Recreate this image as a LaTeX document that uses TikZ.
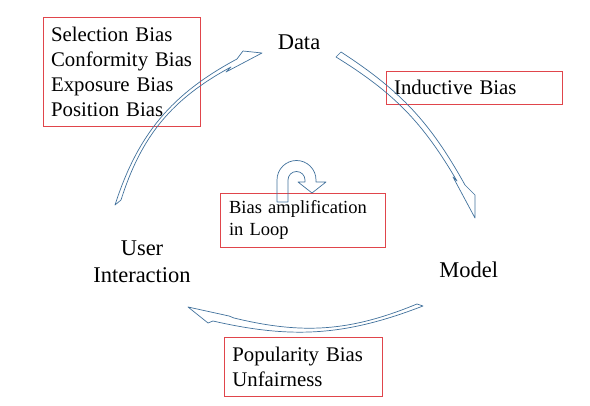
\documentclass[tikz,border=0pt]{standalone}
\usepackage{fontspec}
\setmainfont{Liberation Serif}
\usepackage{tikz}
\usepackage{xcolor}
\usetikzlibrary{positioning,calc}
\definecolor{BiasBoxColour}{HTML}{E0454B}
\definecolor{BlockArrowColour}{HTML}{41719C}
\tikzstyle{StageLabel}=[draw=none,inner sep=0pt,align=center,font=\fontsize{22.5}{27}\selectfont]
\tikzstyle{BiasBox}=[rectangle,line width=0.8pt,anchor=north west,align=left,inner xsep=8pt,inner ysep=0pt,font=\fontsize{20.8}{25}\selectfont,draw=BiasBoxColour,text=black]
\tikzstyle{BlockArrow}=[draw=BlockArrowColour,line width=0.7pt,line join=round]

\begin{document}
\begin{tikzpicture}[x=1pt,y=1pt,semithick]
  \useasboundingbox (0,0) rectangle (590,-406);

  % stages of the loop
  \node[StageLabel,anchor=base](Data) at (299,-50){Data};
  \node[StageLabel,anchor=base west](Model) at (439,-278){Model};
  \node[StageLabel](User-Interaction) at (142,-262){User\\Interaction};

  % biases
  \node[BiasBox,text width=141.3pt,minimum height=109.3pt](SelectionBiasBox) at (42.7,-16.7){Selection Bias\\Conformity Bias\\Exposure Bias\\Position Bias};
  \node[BiasBox,text width=160pt,minimum height=33.3pt](InductiveBiasBox) at (385.7,-70.7){Inductive Bias};
  \node[BiasBox,draw=none,font=\fontsize{18.5}{22}\selectfont,text width=148.3pt,minimum height=53.4pt](LoopBox) at (220.7,-193.3){Bias amplification\\in Loop};
  \draw[BiasBoxColour,line width=0.8pt](LoopBox.south west) rectangle (LoopBox.north east);
  \node[BiasBox,text width=141.7pt,minimum height=59.3pt](PopularityBiasBox) at (224,-336.7){Popularity Bias\\Unfairness};

  % User Interaction -> Data
  \coordinate (UI-Tail-Outer) at (115,-205);
  \coordinate (UI-Tail-Inner) at (121,-200);
  \coordinate (UI-Base-Outer) at (237,-59);
  \coordinate (UI-Barb-Outer) at (243,-51);
  \coordinate (UI-Tip) at (262,-53);
  \coordinate (UI-Barb-Inner) at (226,-72);
  \coordinate (UI-Base-Inner) at (231,-67);
  \draw[BlockArrow](UI-Tail-Outer) to[bend left=22] (UI-Base-Outer) -- (UI-Barb-Outer) -- (UI-Tip) -- (UI-Barb-Inner) -- (UI-Base-Inner) to[bend right=22] (UI-Tail-Inner) -- cycle;

  % Data -> Model
  \coordinate (Data-Tail-Outer) at (341,-52);
  \coordinate (Data-Tail-Inner) at (336,-57);
  \coordinate (Data-Base-Outer) at (465,-185);
  \coordinate (Data-Barb-Outer) at (475,-195);
  \coordinate (Data-Tip) at (475,-218);
  \coordinate (Data-Barb-Inner) at (453,-177);
  \coordinate (Data-Base-Inner) at (457,-181);
  \draw[BlockArrow](Data-Tail-Outer) to[bend left=14] (Data-Base-Outer) -- (Data-Barb-Outer) -- (Data-Tip) -- (Data-Barb-Inner) -- (Data-Base-Inner) to[bend right=14] (Data-Tail-Inner) -- cycle;

  % Model -> User Interaction
  \coordinate (Model-Tail-Outer) at (423,-306);
  \coordinate (Model-Tail-Inner) at (417,-304);
  \coordinate (Model-Base-Outer) at (213,-321);
  \coordinate (Model-Barb-Outer) at (208,-323);
  \coordinate (Model-Tip) at (188,-307);
  \coordinate (Model-Barb-Inner) at (229,-316);
  \coordinate (Model-Base-Inner) at (234,-318);
  \draw[BlockArrow](Model-Tail-Outer) to[bend left=17] (Model-Base-Outer) -- (Model-Barb-Outer) -- (Model-Tip) -- (Model-Barb-Inner) -- (Model-Base-Inner) to[bend right=18] (Model-Tail-Inner) -- cycle;

  % u-turn onto the loop box
  \coordinate (Loop-Start) at (277,-202);
  \coordinate (Loop-Tip) at (312,-193);
  \draw[BlockArrow](Loop-Start) -- (277,-180) arc[start angle=180,end angle=0,radius=19.5] -- (316,-182) -- (326,-182) -- (Loop-Tip) -- (298,-182) -- (305,-182) -- (305,-180) arc[start angle=0,end angle=180,radius=8.5] -- (288,-202) -- cycle;

\end{tikzpicture}
\end{document}
